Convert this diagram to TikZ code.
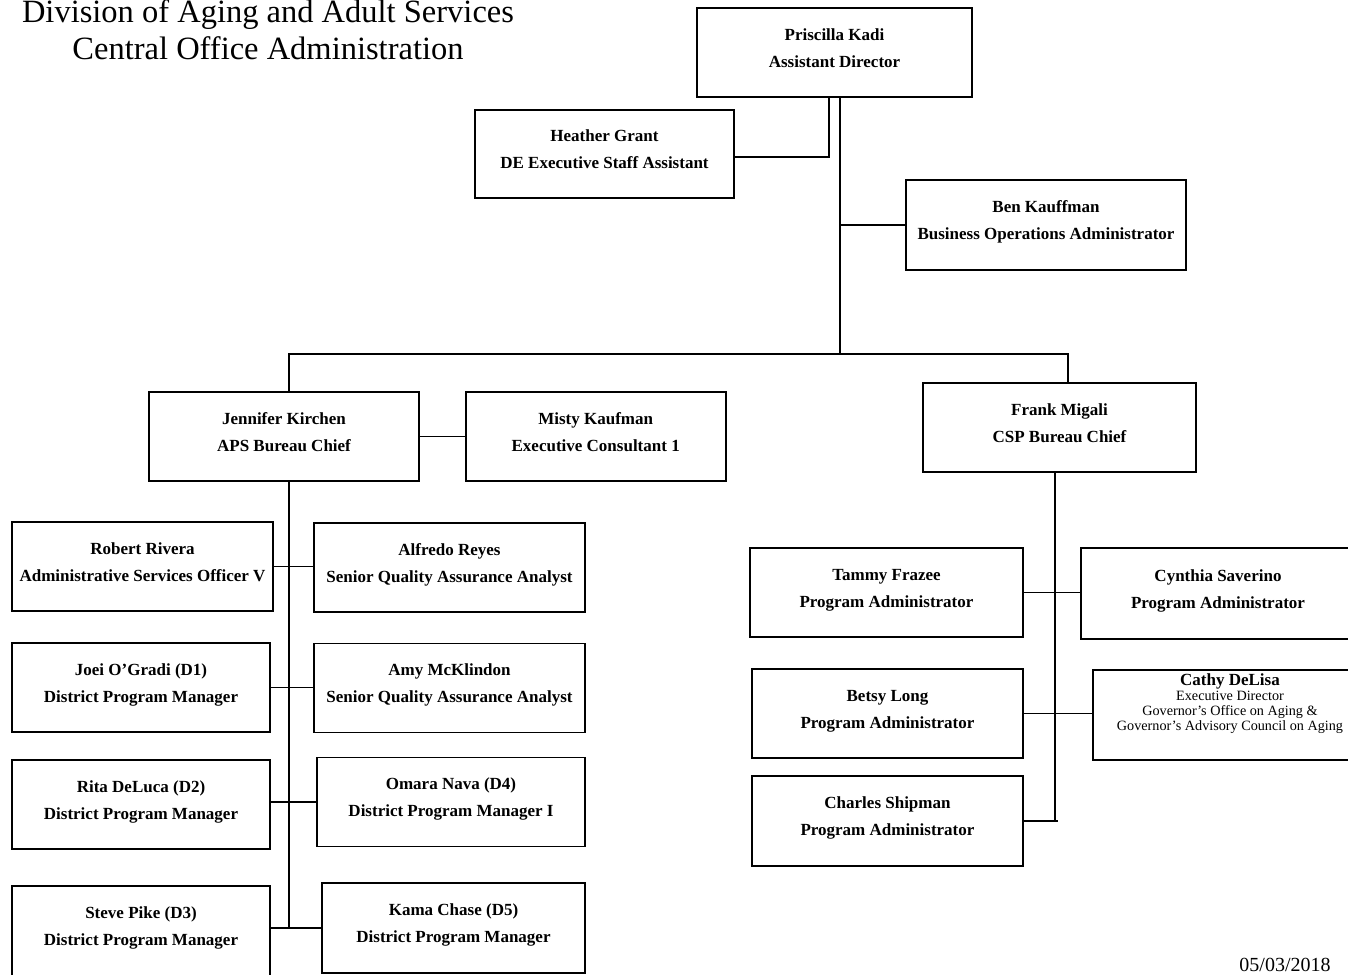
\documentclass[tikz,border=0pt]{standalone}
\usepackage{fontspec}
\setmainfont{Liberation Serif}
\usetikzlibrary{positioning, calc}
\newcommand{\staffsize}{\fontsize{17pt}{27pt}\selectfont\bfseries}
\newcommand{\titlesize}{\fontsize{32.5pt}{37pt}\selectfont}
\newcommand{\who}[2]{\begin{tabular}{c}#1\\#2\end{tabular}}
\def \boxheight {89pt}
\tikzset{
  staffbox/.style = {draw, line width = 1.7pt, minimum height = \boxheight, inner sep = 0pt, text height = 27pt, text depth = 27pt, font = \staffsize},
  link/.style = {-, line width = 1.6pt}
}
\setlength{\tabcolsep}{1pt}

\begin{document}
\begin{tikzpicture}[x = 1pt, y = -1pt]
\clip (0, 0) rectangle (1348, 974);

\node (title) [inner sep = 0pt, font = \titlesize] at (268, 34) {\begin{tabular}{c}Division of Aging and Adult Services\\Central Office Administration\end{tabular}};

% top of the chart
\node (priscilla) [staffbox, minimum width = 275pt] at (834.5, 52.5) {\who{Priscilla Kadi}{Assistant Director}};
\node (heather) [staffbox, minimum width = 259pt, minimum height = 88pt] at (604.5, 154) {\who{Heather Grant}{DE Executive Staff Assistant}};
\node (ben) [staffbox, minimum width = 280pt, minimum height = 90pt] at (1046, 225) {\who{Ben Kauffman}{Business Operations Administrator}};

% the two bureaus
\node (jennifer) [staffbox, minimum width = 270pt] at (284, 436.5) {\who{Jennifer Kirchen}{APS Bureau Chief}};
\node (misty) [staffbox, minimum width = 260pt, right = 45pt of jennifer] {\who{Misty Kaufman}{Executive Consultant 1}};
\node (frank) [staffbox, minimum width = 273pt] at (1059.5, 427.5) {\who{Frank Migali}{CSP Bureau Chief}};

% APS staff
\node (robert) [staffbox, minimum width = 261pt] at (142.5, 566.5) {\who{Robert Rivera}{Administrative Services Officer V}};
\node (alfredo) [staffbox, minimum width = 271pt] at (449.5, 567.5) {\who{Alfredo Reyes}{Senior Quality Assurance Analyst}};
\node (joei) [staffbox, minimum width = 258pt] at (141, 687.5) {\who{Joei O'Gradi (D1)}{District Program Manager}};
\node (amy) [staffbox, minimum width = 271pt] at (449.5, 688) {\who{Amy McKlindon}{Senior Quality Assurance Analyst}};
\node (rita) [staffbox, minimum width = 258pt] at (141, 804.5) {\who{Rita DeLuca (D2)}{District Program Manager}};
\node (omara) [staffbox, minimum width = 268pt] at (451, 802) {\who{Omara Nava (D4)}{District Program Manager I}};
\node (steve) [staffbox, minimum width = 258pt, minimum height = 90pt] at (141, 931) {\who{Steve Pike (D3)}{District Program Manager}};
\node (kama) [staffbox, minimum width = 263pt, minimum height = 90pt] at (453.5, 928) {\who{Kama Chase (D5)}{District Program Manager}};

% CSP staff
\node (tammy) [staffbox, minimum width = 273pt] at (886.5, 592.5) {\who{Tammy Frazee}{Program Administrator}};
\node (cynthia) [staffbox, minimum width = 274pt, minimum height = 91pt] at (1218, 593.5) {\who{Cynthia Saverino}{Program Administrator}};
\node (betsy) [staffbox, minimum width = 271pt] at (887.5, 713.5) {\who{Betsy Long}{Program Administrator}};
\node (cathy) [staffbox, minimum width = 274pt, minimum height = 90pt, label = {[anchor = north, inner sep = 0pt, yshift = -4.5pt, font = \fontsize{14.2pt}{15pt}\selectfont]north:{\begin{tabular}{c}{\fontsize{17pt}{15pt}\selectfont\bfseries Cathy DeLisa}\\Executive Director\\Governor's Office on Aging \&\\Governor's Advisory Council on Aging\end{tabular}}}] at (1230, 715) {};
\node (charles) [staffbox, minimum width = 271pt, minimum height = 90pt] at (887.5, 821) {\who{Charles Shipman}{Program Administrator}};

\node (date) [anchor = north, inner sep = 0pt, font = \fontsize{20pt}{20pt}\selectfont] at (1285, 958) {05/03/2018};

% connectors
\coordinate (bar) at (840, 354);
\coordinate (csptrunk) at ([xshift = -4.5pt] frank.south);
\draw[link] ([xshift = 5.5pt] priscilla.south) -- (bar);
\draw[link] ([xshift = -5.5pt] priscilla.south) |- ([yshift = -3pt] heather.east);
\draw[link] (ben.west) -- (ben.west -| bar);
\draw[link] ([xshift = 5pt] jennifer.north) |- (bar) -| ([xshift = 8.5pt] frank.north);
\draw[link] (jennifer) -- (misty);

\draw[link] ([xshift = 5pt] jennifer.south) -- ([xshift = 5pt] jennifer.south |- kama.west);
\draw[link] (robert.east) -- (robert.east -| alfredo.west);
\draw[link] (joei.east) -- (joei.east -| amy.west);
\draw[link] (omara.west) -- (omara.west -| rita.east);
\draw[link] (kama.west) -- (kama.west -| steve.east);

\draw[link] (csptrunk) -- (csptrunk |- charles.east);
\draw[link] (tammy.east) -- (tammy.east -| cynthia.west);
\draw[link] (betsy.east) -- (betsy.east -| cathy.west);
\draw[link] (charles.east) -- ([xshift = 3pt] charles.east -| csptrunk);
\end{tikzpicture}
\end{document}
